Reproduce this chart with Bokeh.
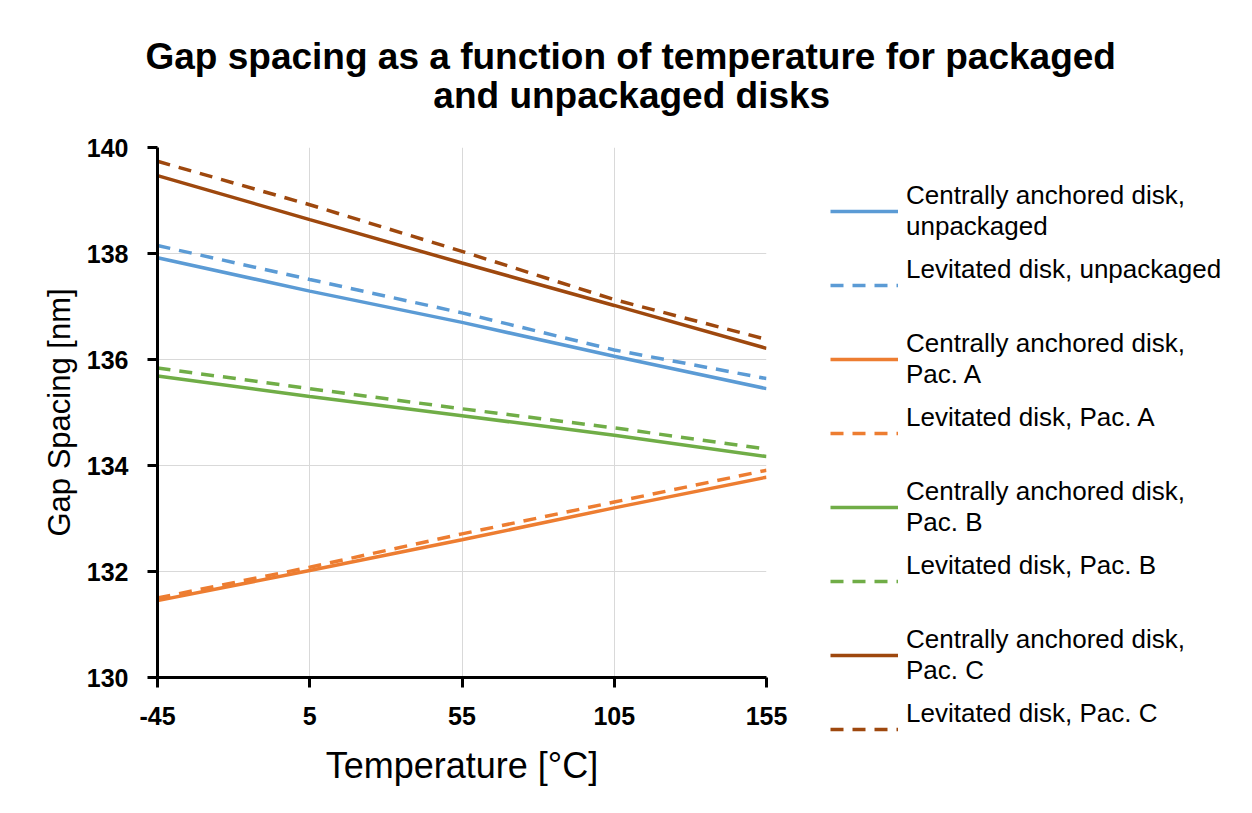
from bokeh.plotting import figure
from bokeh.models import Legend, LegendItem, FixedTicker, Title, PrintfTickFormatter
from bokeh.embed import file_html
from bokeh.resources import INLINE

temps = [-45, 5, 55, 105, 155]
central_unpackaged = [137.92, 137.29, 136.70, 136.06, 135.45]
levitated_unpackaged = [138.15, 137.51, 136.88, 136.18, 135.64]
central_pac_a = [131.45, 132.02, 132.60, 133.20, 133.78]
levitated_pac_a = [131.50, 132.08, 132.71, 133.31, 133.91]
central_pac_b = [135.69, 135.30, 134.94, 134.57, 134.17]
levitated_pac_b = [135.84, 135.45, 135.07, 134.71, 134.31]
central_pac_c = [139.47, 138.64, 137.82, 137.02, 136.21]
levitated_pac_c = [139.74, 138.92, 138.04, 137.13, 136.38]

x_ticks = [-45, 5, 55, 105, 155]
y_ticks = [130, 132, 134, 136, 138, 140]

series = [
    ("Centrally anchored disk,", "unpackaged", central_unpackaged, "#5B9BD5", "solid"),
    ("Levitated disk, unpackaged", "", levitated_unpackaged, "#5B9BD5", "13 9"),
    ("Centrally anchored disk,", "Pac. A", central_pac_a, "#ED7D31", "solid"),
    ("Levitated disk, Pac. A", "", levitated_pac_a, "#ED7D31", "13 9"),
    ("Centrally anchored disk,", "Pac. B", central_pac_b, "#70AD47", "solid"),
    ("Levitated disk, Pac. B", "", levitated_pac_b, "#70AD47", "13 9"),
    ("Centrally anchored disk,", "Pac. C", central_pac_c, "#9E480E", "solid"),
    ("Levitated disk, Pac. C", "", levitated_pac_c, "#9E480E", "13 9"),
]

FONT = "Liberation Sans"
NB = "\u00a0"

p = figure(frame_width=609, frame_height=530, x_range=(-45, 155), y_range=(130, 140),
           output_backend="svg", toolbar_location=None,
           min_border_left=157, min_border_right=0,
           min_border_top=147, min_border_bottom=128)
p.title = None
p.outline_line_color = None
p.background_fill_color = "white"
p.border_fill_color = "white"

title = Title(text="Gap spacing as a function of temperature for packaged\n"
                   + NB * 28 + "and unpackaged disks",
              align="left", offset=-12, text_font=FONT, text_font_size="37px",
              text_font_style="bold", text_color="black", text_line_height=0.95,
              standoff=63)
p.add_layout(title, "above")

items = []
for line1, line2, ys, color, dash in series:
    r = p.line(temps, ys, line_color=color, line_width=3.5, line_dash=dash)
    label = line1 + "\n" + (line2 if line2 else NB)
    items.append(LegendItem(label=label, renderers=[r]))

legend = Legend(items=items, location=(64, -83), orientation="vertical",
                label_text_font=FONT, label_text_font_size="26px",
                label_text_color="black", glyph_width=68, glyph_height=30,
                label_height=30, spacing=12, padding=0, margin=0,
                label_standoff=8, border_line_color=None,
                background_fill_alpha=0)
p.add_layout(legend, "right")

p.xaxis.ticker = FixedTicker(ticks=x_ticks)
p.yaxis.ticker = FixedTicker(ticks=y_ticks)
p.xaxis.formatter = PrintfTickFormatter(format="%d")
p.yaxis.formatter = PrintfTickFormatter(format="%d")
p.xgrid.ticker = FixedTicker(ticks=x_ticks)
p.ygrid.ticker = FixedTicker(ticks=y_ticks)
p.grid.grid_line_color = "#d9d9d9"
p.grid.grid_line_width = 1

for ax in (p.xaxis, p.yaxis):
    ax.axis_line_color = "black"
    ax.axis_line_width = 3
    ax.major_tick_line_color = "black"
    ax.major_tick_line_width = 3
    ax.major_tick_out = 10
    ax.major_tick_in = 0
    ax.minor_tick_line_color = None
    ax.major_label_text_font = FONT
    ax.major_label_text_font_size = "25px"
    ax.major_label_text_font_style = "bold"
    ax.major_label_text_color = "black"
    ax.axis_label_text_font = FONT
    ax.axis_label_text_font_style = "normal"
    ax.axis_label_text_color = "black"

p.xaxis.axis_label = "Temperature [°C]"
p.xaxis.axis_label_text_font_size = "36px"
p.xaxis.major_label_standoff = 19
p.xaxis.axis_label_standoff = 17
p.yaxis.axis_label = "Gap Spacing [nm]"
p.yaxis.axis_label_text_font_size = "31px"
p.yaxis.major_label_standoff = 19
p.yaxis.axis_label_standoff = 7

open("out.html", "w").write(file_html(p, INLINE))
